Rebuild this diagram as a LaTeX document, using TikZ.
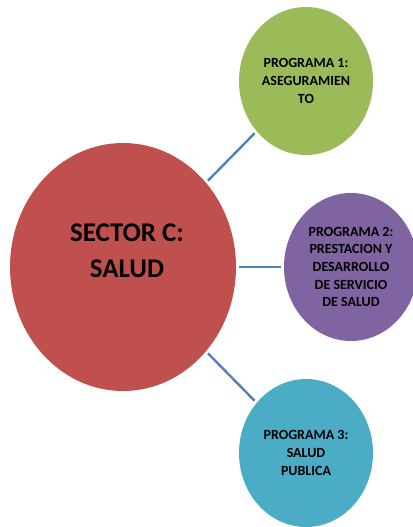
\documentclass[tikz,border=0pt]{standalone}
\usepackage{fontspec}
\setmainfont{Carlito}
\usetikzlibrary{shapes.geometric}
\definecolor{cred}{HTML}{C0504D}
\definecolor{cgreen}{HTML}{9BBB59}
\definecolor{cpurple}{HTML}{8064A2}
\definecolor{cblue}{HTML}{4BACC6}
\definecolor{cline}{HTML}{4F81BD}
\begin{document}
\begin{tikzpicture}[x=1pt,y=-1pt,
  bubble/.style={ellipse, inner sep=0pt, outer sep=0pt, draw=none},
  bigtxt/.style={align=center, font=\bfseries\fontsize{27}{36}\selectfont, text=black},
  smalltxt/.style={align=center, font=\bfseries\fontsize{14}{17.6}\selectfont, text=black},
  link/.style={draw=cline, line width=2.4pt, shorten <=3pt, shorten >=3pt}]
\useasboundingbox (0,0) rectangle (412,527);
\node[bubble, fill=cred, minimum width=226pt, minimum height=248pt] (sector) at (123,267) {};
\node[bubble, fill=cgreen, minimum width=134pt, minimum height=148pt] (p1) at (306,81) {};
\node[bubble, fill=cpurple, minimum width=134pt, minimum height=148pt] (p2) at (351,267) {};
\node[bubble, fill=cblue, minimum width=134pt, minimum height=148pt] (p3) at (306,453) {};
\node[bigtxt] (tsector) at (127,251) {SECTOR C:\\SALUD};
\node[smalltxt] (t1) at (306,81) {PROGRAMA 1:\\ASEGURAMIEN\\TO};
\node[smalltxt] (t2) at (351,267) {PROGRAMA 2:\\PRESTACION Y\\DESARROLLO\\DE SERVICIO\\DE SALUD};
\node[smalltxt] (t3) at (306,453) {PROGRAMA 3:\\SALUD\\PUBLICA};
\draw[link] (sector) -- (p1);
\draw[link] (sector) -- (p2);
\draw[link] (sector) -- (p3);
\end{tikzpicture}
\end{document}
